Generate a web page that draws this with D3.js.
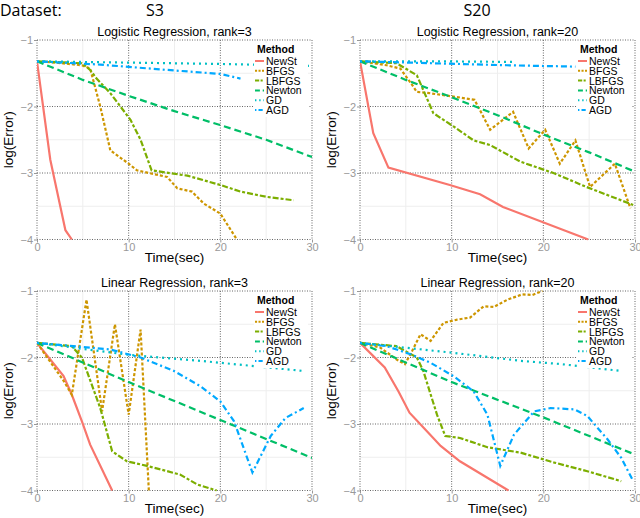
<!DOCTYPE html>
<html>
<head>
<meta charset="utf-8">
<script src="https://cdn.jsdelivr.net/npm/d3@7"></script>
<style>
  body { margin: 0; background: #fff; }
  svg { display: block; font-family: "Liberation Sans", Arial, sans-serif; }
</style>
</head>
<body>
<div id="chart"></div>
<script>
// Data: [time(sec), log(Error)]
const methods = ["NewSt", "BFGS", "LBFGS", "Newton", "GD", "AGD"];
const xTicks = [0, 10, 20, 30];
const yTicks = [-1, -2, -3, -4];
const datasets = ["S3", "S20"];

const logistic3 = {
  NewSt: [[0,-1.32],[1.45,-2.8],[3.1,-3.86],[3.8,-4.0]],
  BFGS: [[0,-1.32],[2,-1.34],[4.9,-1.38],[5.8,-1.43],[6.9,-2.0],[8,-2.66],[10,-2.86],[10.9,-2.96],[14.2,-3.06],[15.3,-3.23],[16.9,-3.28],[18.2,-3.46],[20,-3.61],[21.8,-4.0]],
  LBFGS: [[0,-1.32],[4.9,-1.35],[5.8,-1.45],[6.5,-1.58],[8,-1.8],[10.2,-2.2],[11.3,-2.5],[12.5,-2.96],[14.9,-3.01],[16.4,-3.04],[20,-3.18],[22.2,-3.28],[25.1,-3.36],[28,-3.41]],
  Newton: [[0,-1.32],[5,-1.6],[10,-1.84],[15,-2.07],[20,-2.28],[25,-2.5],[30,-2.76]],
  GD: [[0,-1.32],[10,-1.34],[20,-1.36],[30,-1.39]],
  AGD: [[0,-1.32],[6.9,-1.37],[14.2,-1.45],[20,-1.51],[22.2,-1.58]]
};
const logistic20 = {
  NewSt: [[0,-1.32],[1.45,-2.4],[3.1,-2.92],[9.8,-3.18],[13.1,-3.32],[15.6,-3.51],[24.9,-4.0]],
  BFGS: [[0,-1.32],[2.9,-1.38],[4.4,-1.43],[5.5,-1.64],[6.2,-1.78],[7.6,-1.8],[10.2,-1.85],[12.5,-1.9],[14.2,-2.35],[16.7,-2.08],[18.4,-2.63],[20.2,-2.35],[21.8,-2.86],[23.5,-2.51],[25.1,-3.21],[27.8,-2.86],[29.5,-3.53]],
  LBFGS: [[0,-1.32],[4,-1.35],[6.2,-1.53],[8,-2.1],[10.2,-2.3],[12.4,-2.51],[14.2,-2.58],[17.5,-2.83],[21.1,-3.0],[24.7,-3.21],[29.8,-3.48]],
  Newton: [[0,-1.32],[5,-1.6],[10,-1.86],[15,-2.13],[20,-2.42],[25,-2.69],[30,-2.98]],
  GD: [[0,-1.32],[8,-1.32],[16.9,-1.33]],
  AGD: [[0,-1.32],[8,-1.35],[16,-1.38],[23.5,-1.4]]
};
const linear3 = {
  NewSt: [[0,-1.78],[2.9,-2.28],[3.8,-2.56],[4.9,-2.96],[5.8,-3.31],[8.2,-4.0]],
  BFGS: [[0,-1.78],[2.9,-2.35],[3.8,-2.56],[5.4,-1.13],[7.1,-2.81],[8.5,-1.5],[10,-2.86],[11.3,-1.58],[12.2,-4.0]],
  LBFGS: [[0,-1.78],[3.8,-1.83],[4.9,-2.0],[6.9,-2.76],[8.2,-3.41],[9.8,-3.56],[12,-3.63],[15.6,-3.76],[17.5,-3.91],[19.6,-4.0]],
  Newton: [[0,-1.78],[10,-2.37],[20,-2.94],[30,-3.51]],
  GD: [[0,-1.78],[10,-1.96],[17.8,-2.05],[23,-2.12],[28.9,-2.2]],
  AGD: [[0,-1.78],[4,-1.83],[8,-1.88],[11.3,-2.0],[14.9,-2.2],[17.8,-2.43],[20,-2.66],[21.5,-2.96],[23.5,-3.73],[25.5,-3.18],[27.1,-2.91],[29.1,-2.76]]
};
const linear20 = {
  NewSt: [[0,-1.78],[2.7,-2.15],[4.2,-2.51],[5.4,-2.83],[7.3,-3.11],[8.8,-3.33],[10.9,-3.56],[16.2,-4.0]],
  BFGS: [[0,-1.78],[2.2,-1.85],[4,-2.03],[4.9,-2.1],[5.7,-1.9],[6.6,-1.65],[7.7,-1.75],[9.1,-1.48],[10.6,-1.43],[12,-1.4],[13.5,-1.23],[14.6,-1.24],[16.1,-1.13],[17.7,-1.05],[18.8,-1.06],[19.9,-1.0]],
  LBFGS: [[0,-1.78],[4,-1.83],[6.2,-2.0],[6.9,-2.2],[8.4,-2.86],[9.3,-3.18],[10.9,-3.21],[13.9,-3.35],[17.5,-3.43],[21.2,-3.58],[24.8,-3.71],[28.5,-3.86]],
  Newton: [[0,-1.78],[10,-2.37],[20,-2.9],[30,-3.46]],
  GD: [[0,-1.78],[10.2,-1.93],[17.5,-2.05],[22,-2.1],[28.3,-2.2]],
  AGD: [[0,-1.78],[2.9,-1.83],[5.5,-1.95],[7.7,-2.08],[10.2,-2.28],[12.4,-2.51],[13.9,-2.86],[15.3,-3.63],[16.8,-3.16],[19,-2.81],[20.8,-2.76],[23.4,-2.78],[24.8,-2.88],[27,-3.23],[28.5,-3.51],[29.7,-3.83]]
};

const colors = ["#F8766D", "#CD9600", "#7CAE00", "#00BE67", "#00BFC4", "#00A9FF"];
const dashes = [null, "3,2", "6,2,3,2", "7,4", "2,4", "2,3,6,3"];

const panels = [
  { title: "Logistic Regression, rank=3", data: logistic3, left: 37, top: 40 },
  { title: "Logistic Regression, rank=20", data: logistic20, left: 360, top: 40 },
  { title: "Linear Regression, rank=3", data: linear3, left: 37, top: 291 },
  { title: "Linear Regression, rank=20", data: linear20, left: 360, top: 291 }
];
const W = 275, H = 199.5;

const svg = d3.select("#chart").append("svg")
  .attr("width", 640).attr("height", 518);

// 1. En-tête "Dataset"
svg.append("text").attr("x", 0).attr("y", 15.5)
  .style("font-family", "'Open Sans', sans-serif").style("font-size", "16px")
  .text("Dataset:");
const headX = [155, 477];
datasets.forEach((d, i) => {
  svg.append("text").attr("x", headX[i]).attr("y", 15.5)
    .attr("text-anchor", "middle")
    .style("font-family", "'Open Sans', sans-serif").style("font-size", "16px")
    .text(d);
});

const color = d3.scaleOrdinal().domain(methods).range(colors);

panels.forEach((p, pi) => {
  const g = svg.append("g").attr("transform", `translate(${p.left},${p.top})`);
  const x = d3.scaleLinear().domain([0, 30]).range([0, W]);
  const y = d3.scaleLinear().domain([-1, -4]).range([0, H]);

  // 2. Grille mineure
  [5, 15, 25].forEach(v => g.append("line")
    .attr("x1", x(v)).attr("x2", x(v)).attr("y1", 0).attr("y2", H)
    .attr("stroke", "#eeeeee").attr("stroke-width", 1));
  [-1.5, -2.5, -3.5].forEach(v => g.append("line")
    .attr("y1", y(v)).attr("y2", y(v)).attr("x1", 0).attr("x2", W)
    .attr("stroke", "#eeeeee").attr("stroke-width", 1));

  // 3. Grille majeure (pointillés)
  xTicks.forEach(v => g.append("line")
    .attr("x1", x(v)).attr("x2", x(v)).attr("y1", 0).attr("y2", H)
    .attr("stroke", "#555").attr("stroke-width", 0.9).attr("stroke-dasharray", "1,1.5"));
  yTicks.forEach(v => g.append("line")
    .attr("y1", y(v)).attr("y2", y(v)).attr("x1", 0).attr("x2", W)
    .attr("stroke", "#555").attr("stroke-width", 0.9).attr("stroke-dasharray", "1,1.5"));

  // 4. Axes
  const ax = g.append("g").attr("transform", `translate(0,${H})`)
    .call(d3.axisBottom(x).tickValues(xTicks).tickSize(3).tickPadding(1));
  const ay = g.append("g")
    .call(d3.axisLeft(y).tickValues(yTicks).tickSize(3).tickPadding(1).tickFormat(d3.format("d")));
  [ax, ay].forEach(a => {
    a.select(".domain").remove();
    a.selectAll("line").attr("stroke", "#999");
    a.selectAll("text").attr("fill", "#999").style("font-size", "11px")
      .style("font-family", "'Liberation Sans', Arial, sans-serif");
  });
  ay.selectAll("text").text(d => "\u2212" + Math.abs(d));

  // 5. Courbes
  const clipId = "clip" + pi;
  g.append("clipPath").attr("id", clipId).append("rect")
    .attr("x", 0).attr("y", -1).attr("width", W).attr("height", H + 2);
  const line = d3.line().x(d => x(d[0])).y(d => y(d[1]));
  methods.forEach((m, mi) => {
    g.append("path")
      .attr("clip-path", `url(#${clipId})`)
      .attr("d", line(p.data[m]))
      .attr("fill", "none")
      .attr("stroke", color(m))
      .attr("stroke-width", 2.2)
      .attr("stroke-dasharray", dashes[mi]);
  });

  // 6. Titres
  g.append("text").attr("x", W / 2).attr("y", -4).attr("text-anchor", "middle")
    .style("font-size", "12.5px").text(p.title);
  g.append("text").attr("x", W / 2).attr("y", H + 22).attr("text-anchor", "middle")
    .style("font-size", "13.5px").text("Time(sec)");
  g.append("text").attr("transform", `translate(${-p.left + (pi % 2 ? 326 : 3) + 10},${H / 2}) rotate(-90)`)
    .attr("text-anchor", "middle").style("font-size", "13.5px").text("log(Error)");

  // 7. Légende
  const lg = g.append("g").attr("transform", `translate(${W - 58},0)`);
  lg.append("rect").attr("x", 0).attr("y", 3).attr("width", 54).attr("height", 74).attr("fill", "#fff");
  lg.append("text").attr("x", 3).attr("y", 13).style("font-size", "10.5px")
    .style("font-weight", "bold").text("Method");
  methods.forEach((m, mi) => {
    const yy = 21 + mi * 9.8;
    lg.append("line").attr("x1", 1).attr("x2", 10).attr("y1", yy).attr("y2", yy)
      .attr("stroke", color(m)).attr("stroke-width", 2)
      .attr("stroke-dasharray", dashes[mi] ? dashes[mi].split(",").map(v => v * 0.7).join(",") : null);
    lg.append("text").attr("x", 12).attr("y", yy + 4).style("font-size", "10.5px").text(m);
  });
});
</script>
</body>
</html>
